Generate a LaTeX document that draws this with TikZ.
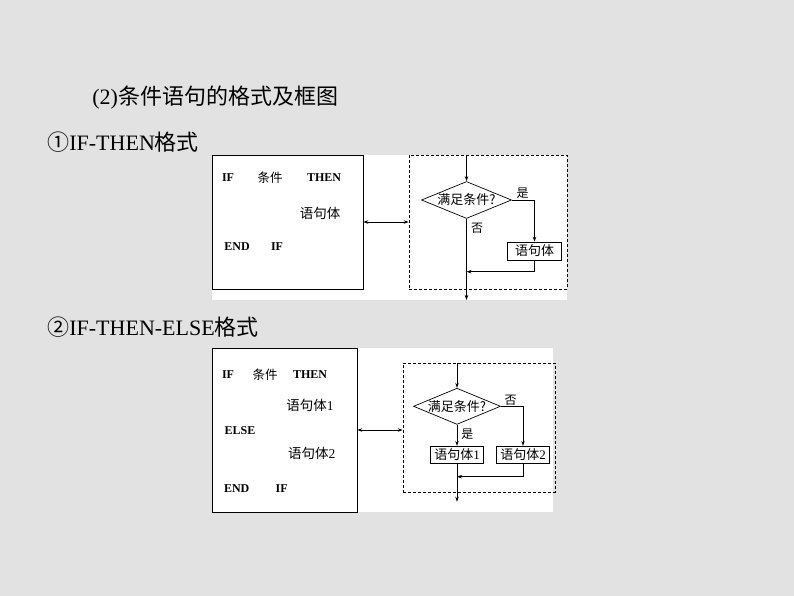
\documentclass[tikz,border=0pt]{standalone}
\usepackage{fontspec}
\setmainfont{Liberation Serif}
\newfontfamily\cjk{Noto Sans CJK SC}
\usetikzlibrary{shapes.geometric,arrows.meta}
\definecolor{paper}{RGB}{226,226,226}

\begin{document}
\begin{tikzpicture}[x=1pt,y=-1pt,line width=0.7pt,
    arr/.style={-{Stealth[length=5pt,width=3.5pt]}},
    dbl/.style={{Stealth[length=5pt,width=3.5pt]}-{Stealth[length=5pt,width=3.5pt]}},
    heading/.style={anchor=west,inner sep=0pt,font=\fontsize{22}{24}\selectfont},
    kw/.style={inner sep=0pt,font=\fontsize{12}{13}\selectfont\bfseries},
    stmt/.style={inner sep=0pt,font=\fontsize{13.5}{14}\selectfont\cjk},
    label/.style={inner sep=0pt,font=\fontsize{12}{13}\selectfont\cjk},
    codebox/.style={draw,rectangle,inner sep=0pt},
    flowbox/.style={draw,rectangle,dashed,dash pattern=on 3pt off 2pt,inner sep=0pt},
    cond/.style={draw,diamond,aspect=2.4,inner sep=0pt,font=\fontsize{13}{14}\selectfont\cjk},
    body/.style={draw,rectangle,inner sep=0pt,minimum width=54pt,minimum height=18pt,
        font=\fontsize{13}{14}\selectfont\cjk}]
    \useasboundingbox[fill=paper] (0,0) rectangle (794,596);
    \fill[white] (212,155) rectangle (567,300);
    \fill[white] (212,348) rectangle (553,512);

    % headings
    \node[heading] (h0) at (92,98) {(2){\cjk 条件语句的格式及框图}};
    \node[heading] (h1) at (47,141.7) {{\cjk ①}IF-THEN{\cjk 格式}};
    \node[heading] (h2) at (47,326.7) {{\cjk ②}IF-THEN-ELSE{\cjk 格式}};

    % IF-THEN
    \node[codebox,minimum width=151pt,minimum height=134pt] (code1) at (287.5,222) {};
    \node[kw] (if1) at (228,178) {IF};
    \node[stmt,font=\fontsize{12.5}{13}\selectfont\cjk] (c1) at (270,178) {条件};
    \node[kw] (then1) at (324,178) {THEN};
    \node[stmt] (s1) at (320,213) {语句体};
    \node[kw] (end1) at (237,247) {END};
    \node[kw] (endif1) at (277,247) {IF};

    \node[flowbox,minimum width=158pt,minimum height=134pt] (flow1) at (488,222) {};
    \draw[dbl] (code1.east) -- (flow1.west);
    \coordinate (in1) at (466.5,155);
    \node[cond,minimum width=90pt,minimum height=37pt] (cond1) at (466.5,200) {满足条件?};
    \node[body] (body1) at (534.5,251) {语句体};
    \coordinate (m1) at (466.5,271.7);
    \coordinate (out1) at (466.5,300);
    \draw[arr] (in1) -- (cond1.north);
    \draw[arr] (cond1.east) -| (body1.north);
    \draw[arr] (body1.south) |- (m1);
    \draw[arr] (cond1.south) -- (out1);
    \node[label] (yes1) at (522.7,192.7) {是};
    \node[label] (no1) at (477,228) {否};

    % IF-THEN-ELSE
    \node[codebox,minimum width=145pt,minimum height=164pt] (code2) at (284.5,430) {};
    \node[kw] (if2) at (228,374.3) {IF};
    \node[stmt,font=\fontsize{12.5}{13}\selectfont\cjk] (c2) at (265,374.3) {条件};
    \node[kw] (then2) at (310,374.3) {THEN};
    \node[stmt] (s21) at (310,405) {语句体\rmfamily 1};
    \node[kw] (else2) at (240,430.7) {ELSE};
    \node[stmt] (s22) at (311.7,453.3) {语句体\rmfamily 2};
    \node[kw] (end2) at (236.7,488.3) {END};
    \node[kw] (endif2) at (281.7,488.3) {IF};

    \node[flowbox,minimum width=152pt,minimum height=129pt] (flow2) at (479,427.5) {};
    \draw[dbl] (code2.east) -- (code2.east -| flow2.west);
    \coordinate (in2) at (457,363);
    \node[cond,minimum width=87pt,minimum height=36pt] (cond2) at (457,406.3) {满足条件?};
    \node[body,minimum width=53pt,minimum height=17pt] (body21) at (457,454.7) {语句体\rmfamily 1};
    \node[body,minimum width=53pt,minimum height=17pt] (body22) at (523,454.7) {语句体\rmfamily 2};
    \coordinate (m2) at (457,476.7);
    \coordinate (out2) at (457,501.7);
    \draw[arr] (in2) -- (cond2.north);
    \draw[arr] (cond2.south) -- (body21.north);
    \draw[arr] (cond2.east) -| (body22.north);
    \draw[arr] (body22.south) |- (m2);
    \draw[arr] (body21.south) -- (out2);
    \node[label] (yes2) at (467.3,434.3) {是};
    \node[label] (no2) at (510.7,400) {否};
\end{tikzpicture}
\end{document}
